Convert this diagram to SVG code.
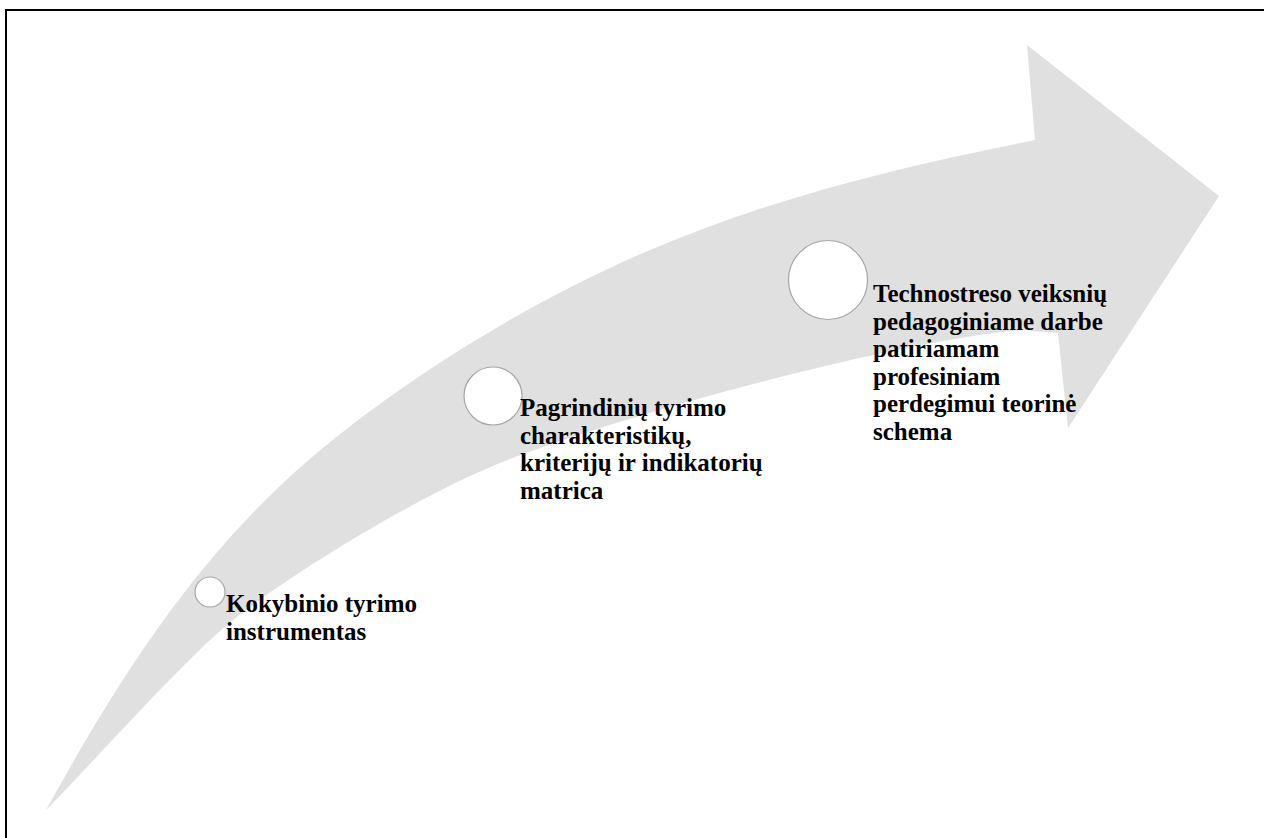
<svg xmlns="http://www.w3.org/2000/svg" width="1264" height="838" viewBox="0 0 1264 838">
  <style>
    .frame { stroke: #000; stroke-width: 2; fill: none; }
    .arrow { fill: #e0e0e0; stroke: none; }
    .dot { fill: #fff; stroke: #a6a6a6; stroke-width: 1.2; }
    .lbl { font-family: "Liberation Serif", "Times New Roman", serif; font-weight: bold; font-size: 25px; fill: #000; }
  </style>
  <rect x="0" y="0" width="1264" height="838" fill="#fff"/>
  <g id="frame">
    <path class="frame" d="M6,838 L6,10 L1264,10"/>
  </g>
  <g id="arrow">
    <path class="arrow" d="M46,810 C110,695 180,580 283,483 C376,396 520,305 650,250 C780,195 905,166 1035,140 L1027,45 L1219,196 L1068,428 L1058,333 L1020,330 C900,340 620,415 500,463 C420,495 293,572 233,620 C183,660 77,780 46,810 Z"/>
  </g>
  <g id="connectors"></g>
  <g id="node1">
    <circle class="dot" cx="210" cy="592" r="15"/>
    <text class="lbl" x="226" y="612"><tspan x="226" y="612">Kokybinio tyrimo</tspan><tspan x="226" y="640">instrumentas</tspan></text>
  </g>
  <g id="node2">
    <circle class="dot" cx="493" cy="396" r="29"/>
    <text class="lbl" x="520" y="416"><tspan x="520" y="416">Pagrindinių tyrimo</tspan><tspan x="520" y="443.5">charakteristikų,</tspan><tspan x="520" y="471">kriterijų ir indikatorių</tspan><tspan x="520" y="498.5">matrica</tspan></text>
  </g>
  <g id="node3">
    <circle class="dot" cx="828" cy="280" r="39.5"/>
    <text class="lbl" x="873" y="302"><tspan x="873" y="302">Technostreso veiksnių</tspan><tspan x="873" y="329.5">pedagoginiame darbe</tspan><tspan x="873" y="357">patiriamam</tspan><tspan x="873" y="384.5">profesiniam</tspan><tspan x="873" y="412">perdegimui teorinė</tspan><tspan x="873" y="439.5">schema</tspan></text>
  </g>
</svg>
